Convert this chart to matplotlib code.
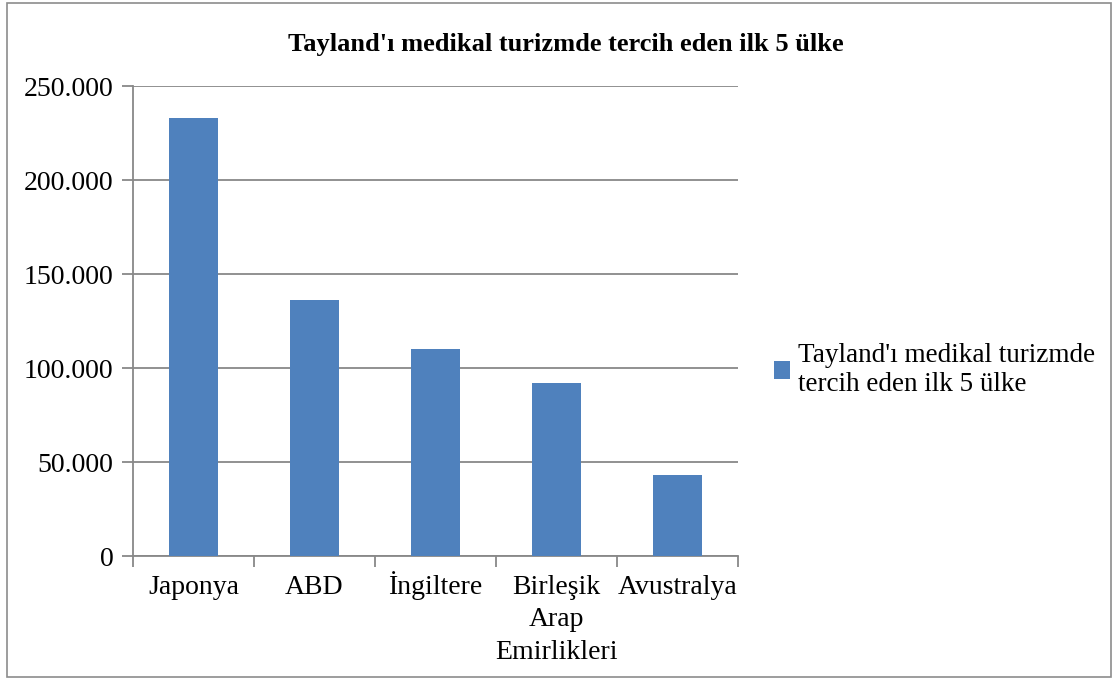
import matplotlib
matplotlib.use("Agg")
import matplotlib.pyplot as plt
import matplotlib.transforms as mtransforms
from matplotlib.patches import Rectangle
from matplotlib.ticker import FuncFormatter

plt.rcParams['font.family'] = ['Liberation Serif', 'DejaVu Serif']

# data
categories = ["Japonya", "ABD", "İngiltere", "Birleşik\nArap\nEmirlikleri", "Avustralya"]
values = [233000, 136000, 110000, 92000, 43000]
series_name = "Tayland'ı medikal turizmde tercih eden ilk 5 ülke"
legend_label = "Tayland'ı medikal turizmde\ntercih eden ilk 5 ülke"
yticks = [0, 50000, 100000, 150000, 200000, 250000]

bar_color = "#4F81BD"
grid_color = "#888888"
fs = 20

fig = plt.figure(figsize=(11.15, 6.8), dpi=100)
ax = fig.add_axes([133 / 1115, 124 / 680, 605 / 1115, 470 / 680])

# outer chart frame
fig.patches.append(Rectangle((7 / 1115, 3 / 680), 1104 / 1115, 674 / 680,
                             transform=fig.transFigure, fill=False,
                             edgecolor="#8c8c8c", linewidth=1.2))

x = list(range(len(categories)))
ax.bar(x, values, width=0.4, color=bar_color, label=legend_label, zorder=3)

ax.set_xlim(-0.5, len(categories) - 0.5)
ax.set_ylim(0, 250000)
ax.set_yticks(yticks)
ax.yaxis.set_major_formatter(FuncFormatter(lambda v, p: f"{int(v):,}".replace(",", ".")))
ax.grid(axis="y", color=grid_color, linewidth=1.3, zorder=0)

ax.set_xticks(x)
labels = ax.set_xticklabels(categories, fontsize=fs, linespacing=1.4)
ax.tick_params(axis="x", length=0, pad=13.5)
ax.set_xticks([i + 0.5 for i in range(-1, len(categories))], minor=True)
ax.tick_params(axis="x", which="minor", length=8, color=grid_color, width=1.3)
ax.tick_params(axis="y", labelsize=fs, length=8, color=grid_color, width=1.3, pad=6)

# the dotted capital I pushes this label down; lift it back to the common line
for lab in labels:
    if lab.get_text().startswith("İ"):
        lab.set_transform(lab.get_transform() +
                          mtransforms.ScaledTranslation(0, 4 / 100, fig.dpi_scale_trans))

for side in ["top", "right"]:
    ax.spines[side].set_visible(False)
for side in ["left", "bottom"]:
    ax.spines[side].set_color(grid_color)
    ax.spines[side].set_linewidth(1.3)

fig.text(566 / 1115, 636 / 680, series_name, ha="center", va="center",
         fontsize=19, fontweight="bold")

fig.legend(loc="center left", bbox_to_anchor=(763 / 1115, 310 / 680),
           frameon=False, fontsize=19.5, handlelength=0.6, handleheight=0.6,
           handletextpad=0.3, borderaxespad=0)

fig.savefig("out.png", dpi=100)
